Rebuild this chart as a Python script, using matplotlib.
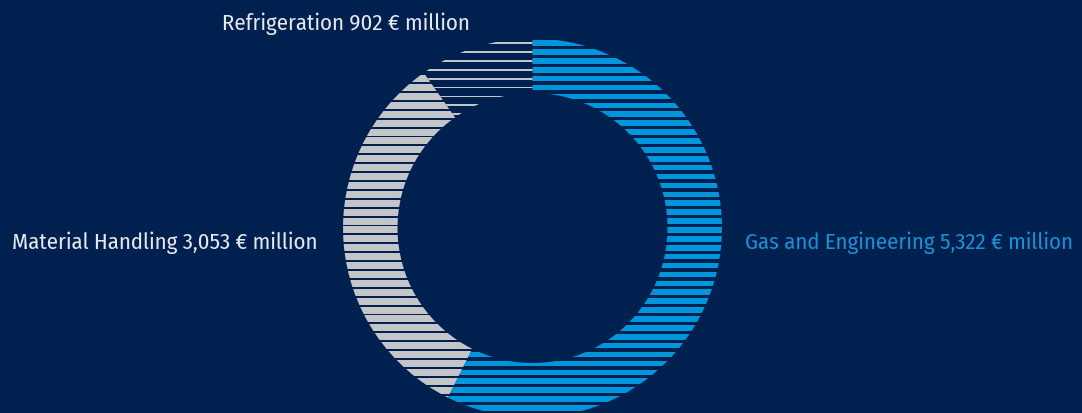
import numpy as np
import matplotlib
matplotlib.use("Agg")
import matplotlib.pyplot as plt

# Segment data (€ million)
segments = ["Gas and Engineering", "Material Handling", "Refrigeration"]
sales = [5322, 3053, 902]
value_labels = ["5,322", "3,053", "902"]

BG = "#00214f"
BLUE = "#0096db"
GRAY = "#c3c5c9"
TEXT = "#e6e8ee"
LABEL_BLUE = "#1a90d2"

W, H = 1082, 414
R_PX = 189.5          # outer radius in pixels
CX, CY = 532.5, 229   # donut centre in pixels

fig = plt.figure(figsize=(W / 100, H / 100), dpi=100, facecolor=BG)
ax = fig.add_axes([0, 0, 1, 1])
ax.set_facecolor(BG)

ring = 1 - 135 / R_PX
wedges, _ = ax.pie(sales, startangle=90, counterclock=False, radius=1,
                   wedgeprops=dict(width=ring, linewidth=0, facecolor="none",
                                   edgecolor="none"))

ax.set_xlim(-CX / R_PX, (W - CX) / R_PX)
ax.set_ylim(-(H - CY) / R_PX, CY / R_PX)
ax.set_aspect("auto")
ax.axis("off")

# horizontal stripe fill, clipped to each wedge
period = 8.9 / R_PX
top = (CY - 44) / R_PX
centres = np.arange(top, -1.2, -period)
styles = [(BLUE, 5.6), (GRAY, 7.0), (GRAY, 1.8)]
for wedge, (col, thick_px) in zip(wedges, styles):
    h = thick_px / R_PX
    bars = ax.barh(centres, 2.2, left=-1.1, height=h, color=col,
                   linewidth=0, align="center")
    for b in bars:
        b.set_clip_path(wedge)

font = ["Fira Sans Condensed", "DejaVu Sans"]
fs = 16.4
fig.text(222 / W, 1 - 24 / H, f"{segments[2]} {value_labels[2]} € million",
         color=TEXT, fontsize=fs, family=font, ha="left", va="center")
fig.text(12 / W, 1 - 243 / H, f"{segments[1]} {value_labels[1]} € million",
         color=TEXT, fontsize=fs, family=font, ha="left", va="center")
fig.text(745 / W, 1 - 243 / H, f"{segments[0]} {value_labels[0]} € million",
         color=LABEL_BLUE, fontsize=fs, family=font, ha="left", va="center")

fig.savefig("out.png", dpi=100, facecolor=BG)
